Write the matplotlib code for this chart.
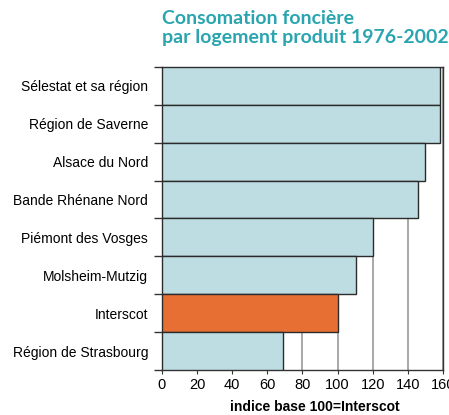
import numpy as np
import matplotlib.pyplot as plt

# donnees (indice base 100 = Interscot)
territoires = ["Sélestat et sa région", "Région de Saverne", "Alsace du Nord",
               "Bande Rhénane Nord", "Piémont des Vosges", "Molsheim-Mutzig",
               "Interscot", "Région de Strasbourg"]
indices = [158.5, 158.3, 150, 146, 120, 110.5, 100, 69]
couleurs = ["#BEDDE3"] * 6 + ["#E86F33"] + ["#BEDDE3"]

plt.rcParams["font.family"] = ["Liberation Sans", "DejaVu Sans"]

fig = plt.figure(figsize=(4.49, 4.15), dpi=100)
ax = fig.add_axes([0.3608, 0.1084, 0.6258, 0.7302])

pos = np.arange(len(territoires))[::-1]
ax.barh(pos, indices, height=1.0, color=couleurs, edgecolor="#2b2b2b",
        linewidth=1.0, zorder=3)

ax.set_xlim(0, 160)
ax.set_ylim(-0.5, len(territoires) - 0.5)
ax.set_xticks(np.arange(0, 161, 20))
ax.tick_params(axis="x", labelsize=10.5, length=3, color="#333333", pad=3)
ax.xaxis.grid(True, color="#999999", linewidth=1.2, zorder=0)

ax.set_yticks(pos)
ax.set_yticklabels(territoires, fontsize=10)
ax.tick_params(axis="y", length=0, pad=10)
ax.set_yticks(np.arange(-0.5, len(territoires), 1.0), minor=True)
ax.tick_params(axis="y", which="minor", length=6, color="#333333", width=1)

for s in ax.spines.values():
    s.set_color("#333333")
    s.set_linewidth(1.0)

ax.set_xlabel("indice base 100=Interscot", fontsize=10, fontweight="bold")
ax.xaxis.set_label_coords(0.545, -0.098)

fig.text(0.3608, 0.975, "Consomation foncière\npar logement produit 1976-2002",
         color="#2AA5B0", fontsize=14, fontweight="bold",
         family=["Lato", "DejaVu Sans"], va="top", ha="left", linespacing=1.12)

fig.savefig("out.png", dpi=100)
